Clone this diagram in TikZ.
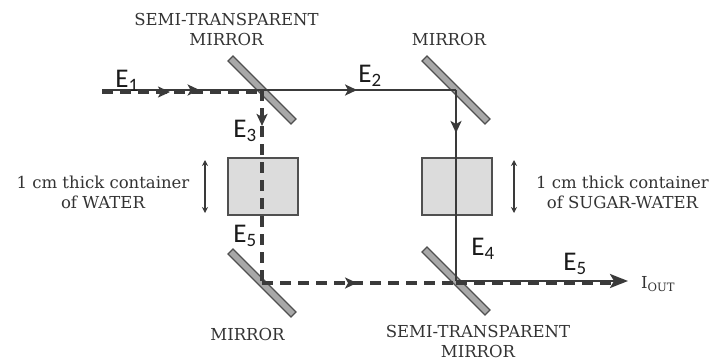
\documentclass[tikz,border=0pt]{standalone}
\usepackage{fontspec}
\newfontfamily\elabelfont{Carlito}
\newfontfamily\captionfont{DejaVu Serif}
\usetikzlibrary{arrows.meta}
\usetikzlibrary{decorations.markings}
\definecolor{beamgray}{HTML}{3A3A3A}
\definecolor{edgegray}{HTML}{505050}
\definecolor{mirrorgray}{HTML}{A8A8A8}
\definecolor{boxgray}{HTML}{DCDCDC}
\definecolor{textgray}{HTML}{333333}
\definecolor{etext}{HTML}{1A1A1A}
\tikzset{mirror/.style = {draw = edgegray, fill = mirrorgray, line width = 1.2, rectangle, minimum width = 89, minimum height = 7, inner sep = 0, rotate = -45}}
\tikzset{cell/.style = {draw = edgegray, fill = boxgray, line width = 1.2, rectangle, minimum width = 70, minimum height = 57, inner sep = 0}}
\tikzset{caption/.style = {font = \captionfont\fontsize{16.5}{20}\selectfont, text = textgray, inner sep = 0, align = center}}
\tikzset{elabel/.style = {font = \elabelfont\fontsize{27}{30}\selectfont, text = etext, inner sep = 0}}
\tikzset{beam/.style = {draw = beamgray, line width = 2.6}}
\tikzset{dashbeam/.style = {draw = beamgray, line width = 3.5, dash pattern = on 11pt off 7pt}}
\tikzset{midarrow/.style = {postaction = {decorate, decoration = {markings, mark = at position #1 with {\arrow[beamgray]{Stealth[length = 12, width = 11, inset = 3]}}}}}}
\tikzset{thickness/.style = {draw = beamgray, line width = 1.2, {Stealth[length = 6, width = 6]}-{Stealth[length = 6, width = 6]}}}

\begin{document}
\begin{tikzpicture}[x = 1pt, y = -1pt]
    \useasboundingbox (0, 0) rectangle (716, 362);
    \node [mirror] (m1) at (262, 90) {};
    \node [mirror] (m2) at (456, 90) {};
    \node [mirror] (m3) at (262, 283) {};
    \node [mirror] (m4) at (456, 281) {};
    \node [cell] (water) at (263, 186.5) {};
    \node [cell] (sugar) at (457, 186.5) {};
    \coordinate (in) at (102, 90);
    \coordinate (indash) at (102, 92);
    \coordinate (out) at (628, 281);
    \coordinate (outdash) at (612, 283);
    \coordinate (wtop) at (205, 160);
    \coordinate (wbot) at (205, 213);
    \coordinate (stop) at (514, 160);
    \coordinate (sbot) at (514, 213);
    \draw [beam, midarrow = 0.61] (in) -- (m1.center);
    \draw [beam, midarrow = 0.49] (m1.center) -- (m2.center);
    \draw [beam, midarrow = 0.225] (m2.center) -- (m4.center);
    \draw [beam, -{Stealth[length = 18, width = 14, inset = 4]}] (m4.center) -- (out);
    \draw [dashbeam, midarrow = 0.425] (indash) -- (indash -| m1.center);
    \draw [dashbeam, midarrow = 0.186] (m1.center) -- (m3.center);
    \draw [dashbeam, midarrow = 0.49] (m3.center) -- (m3.center -| m4.center);
    \draw [dashbeam] (m3.center -| m4.center) -- (outdash);
    \draw [thickness] (wtop) -- (wbot);
    \draw [thickness] (stop) -- (sbot);
    \node [caption, anchor = base] (st1) at (226.5, 45) {SEMI-TRANSPARENT\\MIRROR};
    \node [caption, anchor = base] (mr1) at (449, 45) {MIRROR};
    \node [caption, anchor = base] (mr2) at (247.5, 340) {MIRROR};
    \node [caption, anchor = base] (st2) at (478, 357.5) {SEMI-TRANSPARENT\\MIRROR};
    \node [caption, anchor = base] (wlab) at (103, 208) {1 cm thick container\\of WATER};
    \node [caption, anchor = base] (slab) at (622.5, 208) {1 cm thick container\\of SUGAR-WATER};
    \node [caption, anchor = west] (iout) at (641, 284) {I\textsubscript{OUT}};
    \node [elabel] (e1) at (127, 81) {E\textsubscript{1}};
    \node [elabel] (e2) at (370, 76) {E\textsubscript{2}};
    \node [elabel] (e3) at (245, 131) {E\textsubscript{3}};
    \node [elabel] (e5a) at (245, 236) {E\textsubscript{5}};
    \node [elabel] (e4) at (483, 249) {E\textsubscript{4}};
    \node [elabel] (e5b) at (575, 264) {E\textsubscript{5}};
  \end{tikzpicture}
\end{document}
